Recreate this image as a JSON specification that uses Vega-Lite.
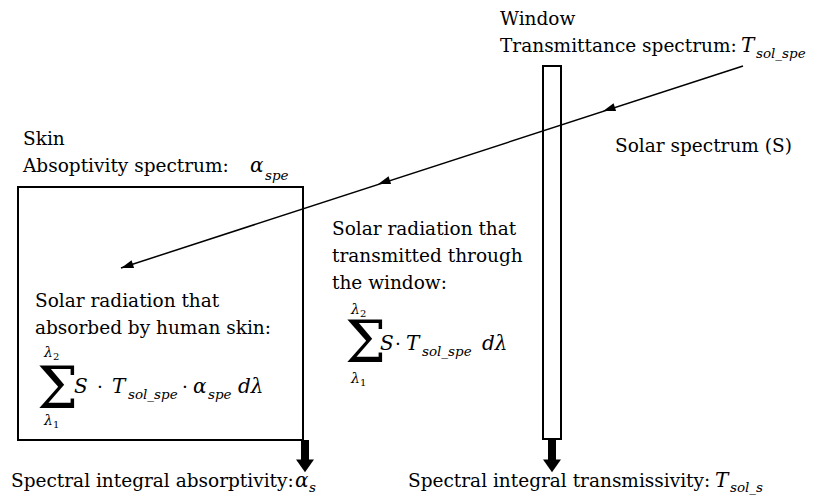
{
  "$schema": "https://vega.github.io/schema/vega-lite/v6.json",
  "width": 814,
  "height": 496,
  "autosize": {"type": "none"},
  "padding": 0,
  "background": "white",
  "config": {"view": {"stroke": null}, "text": {"font": "DejaVu Serif", "color": "black"}},
  "datasets": {
    "boxes": [
      {"name": "skin", "x1": 18, "x2": 303, "y1": 187, "y2": 440},
      {"name": "window", "x1": 543, "x2": 561, "y1": 66, "y2": 439}
    ],
    "sunline": [
      {"x": 743, "y": 66, "order": 1},
      {"x": 121, "y": 268, "order": 2}
    ],
    "heads": [
      {"x": 609, "y": 109},
      {"x": 384, "y": 182},
      {"x": 127, "y": 266}
    ],
    "shafts": [
      {"x": 305, "y1": 440, "y2": 460},
      {"x": 552, "y1": 439, "y2": 460}
    ],
    "downheads": [
      {"x": 305, "y": 465},
      {"x": 552, "y": 465}
    ],
    "texts": [
      {"kind": "main", "x": 500, "y": 25, "t": "Window"},
      {"kind": "main", "x": 500, "y": 52, "t": "Transmittance spectrum:"},
      {"kind": "main", "x": 615, "y": 152, "t": "Solar spectrum (S)"},
      {"kind": "main", "x": 23, "y": 145, "t": "Skin"},
      {"kind": "main", "x": 23, "y": 172, "t": "Absoptivity spectrum:"},
      {"kind": "main", "x": 35, "y": 307, "t": "Solar radiation that"},
      {"kind": "main", "x": 35, "y": 334, "t": "absorbed by human skin:"},
      {"kind": "main", "x": 332, "y": 235, "t": "Solar radiation that"},
      {"kind": "main", "x": 332, "y": 262, "t": "transmitted through"},
      {"kind": "main", "x": 332, "y": 289, "t": "the window:"},
      {"kind": "main", "x": 11, "y": 487, "t": "Spectral integral absorptivity:"},
      {"kind": "main", "x": 408, "y": 487, "t": "Spectral integral transmissivity:"},
      {"kind": "main", "x": 97, "y": 393, "t": "·"},
      {"kind": "main", "x": 182, "y": 393, "t": "·"},
      {"kind": "main", "x": 395, "y": 350, "t": "·"},
      {"kind": "it", "x": 741, "y": 52, "t": "T"},
      {"kind": "it", "x": 250, "y": 172, "t": "α"},
      {"kind": "it", "x": 74, "y": 393, "t": "S"},
      {"kind": "it", "x": 112, "y": 393, "t": "T"},
      {"kind": "it", "x": 193, "y": 393, "t": "α"},
      {"kind": "it", "x": 238, "y": 393, "t": "dλ"},
      {"kind": "it", "x": 380, "y": 350, "t": "S"},
      {"kind": "it", "x": 406, "y": 350, "t": "T"},
      {"kind": "it", "x": 482, "y": 350, "t": "dλ"},
      {"kind": "it", "x": 295, "y": 487, "t": "α"},
      {"kind": "it", "x": 715, "y": 487, "t": "T"},
      {"kind": "sub", "x": 756, "y": 58, "t": "sol_spe"},
      {"kind": "sub", "x": 265, "y": 180, "t": "spe"},
      {"kind": "sub", "x": 128, "y": 399, "t": "sol_spe"},
      {"kind": "sub", "x": 208, "y": 399, "t": "spe"},
      {"kind": "sub", "x": 422, "y": 356, "t": "sol_spe"},
      {"kind": "sub", "x": 309, "y": 492, "t": "s"},
      {"kind": "sub", "x": 730, "y": 492, "t": "sol_s"},
      {"kind": "lam", "x": 44, "y": 357, "t": "λ"},
      {"kind": "lam", "x": 44, "y": 425, "t": "λ"},
      {"kind": "lam", "x": 351, "y": 314, "t": "λ"},
      {"kind": "lam", "x": 351, "y": 383, "t": "λ"},
      {"kind": "digit", "x": 53, "y": 360, "t": "2"},
      {"kind": "digit", "x": 53, "y": 428, "t": "1"},
      {"kind": "digit", "x": 360, "y": 317, "t": "2"},
      {"kind": "digit", "x": 360, "y": 386, "t": "1"},
      {"kind": "sigma", "x": 37, "y": 408, "t": "Σ"},
      {"kind": "sigma", "x": 345, "y": 362, "t": "Σ"}
    ]
  },
  "encoding": {},
  "layer": [
    {
      "data": {"name": "boxes"},
      "mark": {"type": "rect", "fill": "white", "stroke": "black", "strokeWidth": 2},
      "encoding": {
        "x": {"field": "x1", "type": "quantitative", "scale": {"domain": [0, 814], "nice": false, "zero": false}, "axis": null},
        "x2": {"field": "x2"},
        "y": {"field": "y1", "type": "quantitative", "scale": {"domain": [0, 496], "nice": false, "zero": false, "reverse": true}, "axis": null},
        "y2": {"field": "y2"}
      }
    },
    {
      "data": {"name": "sunline"},
      "mark": {"type": "line", "color": "black", "strokeWidth": 1.5},
      "encoding": {
        "x": {"field": "x", "type": "quantitative", "scale": {"domain": [0, 814], "nice": false, "zero": false}, "axis": null},
        "y": {"field": "y", "type": "quantitative", "scale": {"domain": [0, 496], "nice": false, "zero": false, "reverse": true}, "axis": null},
        "order": {"field": "order"}
      }
    },
    {
      "data": {"name": "heads"},
      "mark": {"type": "point", "shape": "M1,0L-1,-0.65L-1,0.65Z", "filled": true, "color": "black", "opacity": 1, "size": 150, "angle": 162},
      "encoding": {
        "x": {"field": "x", "type": "quantitative", "scale": {"domain": [0, 814], "nice": false, "zero": false}, "axis": null},
        "y": {"field": "y", "type": "quantitative", "scale": {"domain": [0, 496], "nice": false, "zero": false, "reverse": true}, "axis": null}
      }
    },
    {
      "data": {"name": "shafts"},
      "mark": {"type": "rule", "color": "black", "strokeWidth": 8},
      "encoding": {
        "x": {"field": "x", "type": "quantitative", "scale": {"domain": [0, 814], "nice": false, "zero": false}, "axis": null},
        "y": {"field": "y1", "type": "quantitative", "scale": {"domain": [0, 496], "nice": false, "zero": false, "reverse": true}, "axis": null},
        "y2": {"field": "y2"}
      }
    },
    {
      "data": {"name": "downheads"},
      "mark": {"type": "point", "shape": "M-1,-0.6L1,-0.6L0,0.8Z", "filled": true, "color": "black", "opacity": 1, "size": 324},
      "encoding": {
        "x": {"field": "x", "type": "quantitative", "scale": {"domain": [0, 814], "nice": false, "zero": false}, "axis": null},
        "y": {"field": "y", "type": "quantitative", "scale": {"domain": [0, 496], "nice": false, "zero": false, "reverse": true}, "axis": null}
      }
    },
    {
      "data": {"name": "texts"},
      "transform": [{"filter": "datum.kind === 'main'"}],
      "mark": {"type": "text", "align": "left", "baseline": "alphabetic", "font": "DejaVu Serif", "fontSize": 18.5},
      "encoding": {
        "x": {"field": "x", "type": "quantitative", "scale": {"domain": [0, 814], "nice": false, "zero": false}, "axis": null},
        "y": {"field": "y", "type": "quantitative", "scale": {"domain": [0, 496], "nice": false, "zero": false, "reverse": true}, "axis": null},
        "text": {"field": "t"}
      }
    },
    {
      "data": {"name": "texts"},
      "transform": [{"filter": "datum.kind === 'it'"}],
      "mark": {"type": "text", "align": "left", "baseline": "alphabetic", "font": "DejaVu Serif", "fontStyle": "italic", "fontSize": 20},
      "encoding": {
        "x": {"field": "x", "type": "quantitative", "scale": {"domain": [0, 814], "nice": false, "zero": false}, "axis": null},
        "y": {"field": "y", "type": "quantitative", "scale": {"domain": [0, 496], "nice": false, "zero": false, "reverse": true}, "axis": null},
        "text": {"field": "t"}
      }
    },
    {
      "data": {"name": "texts"},
      "transform": [{"filter": "datum.kind === 'sub'"}],
      "mark": {"type": "text", "align": "left", "baseline": "alphabetic", "font": "DejaVu Serif", "fontStyle": "italic", "fontSize": 13.5},
      "encoding": {
        "x": {"field": "x", "type": "quantitative", "scale": {"domain": [0, 814], "nice": false, "zero": false}, "axis": null},
        "y": {"field": "y", "type": "quantitative", "scale": {"domain": [0, 496], "nice": false, "zero": false, "reverse": true}, "axis": null},
        "text": {"field": "t"}
      }
    },
    {
      "data": {"name": "texts"},
      "transform": [{"filter": "datum.kind === 'lam'"}],
      "mark": {"type": "text", "align": "left", "baseline": "alphabetic", "font": "DejaVu Serif", "fontStyle": "italic", "fontSize": 14},
      "encoding": {
        "x": {"field": "x", "type": "quantitative", "scale": {"domain": [0, 814], "nice": false, "zero": false}, "axis": null},
        "y": {"field": "y", "type": "quantitative", "scale": {"domain": [0, 496], "nice": false, "zero": false, "reverse": true}, "axis": null},
        "text": {"field": "t"}
      }
    },
    {
      "data": {"name": "texts"},
      "transform": [{"filter": "datum.kind === 'digit'"}],
      "mark": {"type": "text", "align": "left", "baseline": "alphabetic", "font": "DejaVu Serif", "fontSize": 10},
      "encoding": {
        "x": {"field": "x", "type": "quantitative", "scale": {"domain": [0, 814], "nice": false, "zero": false}, "axis": null},
        "y": {"field": "y", "type": "quantitative", "scale": {"domain": [0, 496], "nice": false, "zero": false, "reverse": true}, "axis": null},
        "text": {"field": "t"}
      }
    },
    {
      "data": {"name": "texts"},
      "transform": [{"filter": "datum.kind === 'sigma'"}],
      "mark": {"type": "text", "align": "left", "baseline": "alphabetic", "font": "DejaVu Serif", "fontSize": 58},
      "encoding": {
        "x": {"field": "x", "type": "quantitative", "scale": {"domain": [0, 814], "nice": false, "zero": false}, "axis": null},
        "y": {"field": "y", "type": "quantitative", "scale": {"domain": [0, 496], "nice": false, "zero": false, "reverse": true}, "axis": null},
        "text": {"field": "t"}
      }
    }
  ]
}
